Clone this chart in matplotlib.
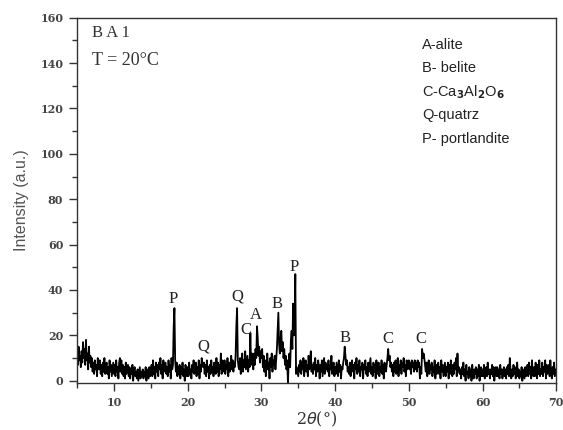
import numpy as np
import matplotlib
matplotlib.use("Agg")
import matplotlib.pyplot as plt
from matplotlib.ticker import MultipleLocator

# 2theta grid: 5.0 .. 70.0 step 0.1 ; each row = one degree (10 readings)
two_theta_start = 5.0
two_theta_step = 0.1
intensity_rows = [
    [12, 7, 15, 9, 11, 6, 13, 8, 17, 10],    # 5
    [14, 7, 18, 9, 12, 5, 15, 8, 11, 6],     # 6
    [10, 4, 8, 3, 9, 5, 7, 2, 10, 6],        # 7
    [5, 9, 3, 7, 2, 8, 4, 10, 3, 6],         # 8
    [8, 3, 6, 1, 9, 4, 7, 2, 5, 8],          # 9
    [3, 7, 2, 9, 4, 6, 1, 8, 10, 4],         # 10
    [9, 3, 7, 2, 6, 1, 8, 3, 5, 7],          # 11
    [2, 6, 1, 5, 3, 7, 0, 4, 6, 2],          # 12
    [4, 1, 5, 0, 3, 6, 1, 4, 2, 5],          # 13
    [1, 4, 2, 6, 0, 5, 3, 1, 6, 2],          # 14
    [4, 7, 2, 9, 3, 6, 1, 8, 4, 7],          # 15
    [2, 8, 5, 10, 3, 7, 1, 9, 4, 6],         # 16
    [8, 3, 6, 2, 9, 4, 7, 1, 10, 5],         # 17
    [7, 24, 32, 9, 4, 8, 2, 6, 3, 7],        # 18
    [1, 6, 3, 8, 2, 5, 0, 7, 4, 2],          # 19
    [6, 2, 8, 3, 5, 1, 7, 4, 9, 3],          # 20
    [5, 8, 2, 6, 3, 9, 1, 7, 4, 10],         # 21
    [7, 6, 8, 3, 7, 2, 9, 4, 6, 1],          # 22
    [7, 3, 9, 4, 6, 2, 8, 5, 3, 10],         # 23
    [4, 8, 2, 7, 5, 12, 3, 9, 6, 4],         # 24
    [9, 3, 7, 5, 10, 2, 8, 4, 6, 11],        # 25
    [5, 9, 4, 8, 6, 11, 24, 32, 9, 6],       # 26
    [5, 10, 3, 8, 12, 4, 9, 6, 13, 5],       # 27
    [8, 11, 4, 9, 6, 21, 7, 12, 9, 5],       # 28
    [12, 7, 14, 10, 24, 19, 11, 15, 8, 13],  # 29
    [10, 14, 6, 11, 4, 9, 2, 7, 12, 5],      # 30
    [8, 1, 10, 6, 12, 4, 9, 7, 11, 5],       # 31
    [9, 14, 22, 30, 16, 12, 18, 22, 13, 17], # 32
    [10, 14, 7, 11, 5, 9, -1, 8, 12, 6],     # 33
    [18, 22, 14, 34, 20, 23, 47, 3, 6, 4],   # 34
    [2, 7, 4, 9, 3, 8, 5, 10, 2, 6],         # 35
    [9, 4, 7, 2, 11, 5, 8, 13, 4, 7],        # 36
    [3, 8, 5, 10, 2, 7, 4, 9, 6, 1],         # 37
    [7, 4, 9, 2, 6, 10, 3, 8, 5, 7],         # 38
    [4, 9, 2, 7, 5, 11, 3, 6, 8, 2],         # 39
    [6, 3, 8, 5, 2, 9, 4, 7, 1, 6],          # 40
    [5, 8, 10, 15, 11, 7, 9, 4, 6, 3],       # 41
    [8, 2, 6, 9, 4, 7, 1, 8, 5, 10],         # 42
    [3, 7, 4, 9, 2, 6, 5, 8, 1, 7],          # 43
    [5, 9, 3, 6, 2, 8, 4, 7, 10, 3],         # 44
    [6, 2, 8, 4, 7, 1, 9, 3, 5, 8],          # 45
    [2, 6, 4, 9, 3, 7, 1, 8, 5, 4],          # 46
    [7, 10, 14, 9, 11, 6, 8, 4, 7, 2],       # 47
    [8, 4, 9, 3, 6, 10, 2, 7, 5, 9],         # 48
    [3, 8, 6, 10, 4, 7, 2, 9, 5, 8],         # 49
    [9, 5, 8, 3, 9, 6, 8, 4, 9, 5],          # 50
    [8, 4, 9, 6, 8, 1, 6, 3, 14, 10],        # 51
    [12, 10, 7, 4, 8, 2, 6, 9, 3, 7],        # 52
    [5, 8, 2, 6, 4, 9, 1, 7, 3, 6],          # 53
    [8, 3, 6, 1, 9, 4, 7, 2, 5, 8],          # 54
    [2, 6, 4, 8, 1, 7, 3, 9, 5, 2],          # 55
    [7, 3, 8, 5, 10, 2, 12, 4, 6, 3],        # 56
    [5, 1, 6, 3, 8, 2, 5, 0, 7, 3],          # 57
    [4, 1, 6, 2, 5, 0, 7, 3, 1, 5],          # 58
    [3, 6, 1, 5, 2, 7, 0, 4, 6, 2],          # 59
    [5, 2, 7, 1, 4, 6, 2, 8, 3, 5],          # 60
    [1, 5, 3, 7, 2, 6, 0, 4, 6, 2],          # 61
    [6, 2, 5, 1, 7, 3, 5, 1, 4, 6],          # 62
    [2, 5, 1, 6, 3, 7, 2, 10, 4, 1],         # 63
    [5, 2, 7, 3, 6, 1, 4, 8, 2, 5],          # 64
    [1, 4, 2, 6, 0, 5, 3, 1, 6, 2],          # 65
    [4, 7, 2, 8, 3, 6, 1, 9, 4, 2],          # 66
    [6, 2, 8, 4, 1, 7, 3, 9, 2, 5],          # 67
    [3, 8, 2, 6, 4, 9, 1, 7, 3, 5],          # 68
    [7, 2, 9, 4, 1, 6, 3, 8, 2, 5],          # 69
    [3],                                     # 70
]

peak_labels = ["P", "Q", "Q", "C", "A", "B", "P", "B", "C", "C"]
peak_label_x = [18.0, 22.1, 26.7, 27.9, 29.3, 32.1, 34.5, 41.4, 47.1, 51.7]
peak_label_y = [36, 15, 37, 22.4, 29, 34, 50, 19, 18.4, 18.4]

legend_lines = ["A-alite", "B- belite", r"C-Ca$_\mathbf{3}$Al$_\mathbf{2}$O$_\mathbf{6}$",
                "Q-quatrz", "P- portlandite"]

intensity = np.array([v for row in intensity_rows for v in row], dtype=float)
two_theta = two_theta_start + two_theta_step * np.arange(len(intensity))

fig = plt.figure(figsize=(5.63, 4.30), dpi=100)
ax = fig.add_axes([0.137, 0.1093, 0.851, 0.8495])
ax.plot(two_theta, intensity, color="black", lw=1.3)
ax.set_xlim(5, 70)
ax.set_ylim(-1, 160)

ax.xaxis.set_major_locator(MultipleLocator(10))
ax.xaxis.set_minor_locator(MultipleLocator(5))
ax.yaxis.set_major_locator(MultipleLocator(20))
ax.yaxis.set_minor_locator(MultipleLocator(10))
ax.set_xticks(np.arange(10, 71, 10))
ax.tick_params(which="major", direction="out", length=6, width=1, colors="#333333", pad=4)
ax.tick_params(which="minor", direction="out", length=3.5, width=1, colors="#333333")
for lab in ax.get_xticklabels() + ax.get_yticklabels():
    lab.set_fontfamily("DejaVu Serif")
    lab.set_fontweight("bold")
    lab.set_fontsize(8)
    lab.set_color("#444444")
for sp in ax.spines.values():
    sp.set_linewidth(1.0)
    sp.set_color("#333333")

ax.set_ylabel("Intensity (a.u.)", fontsize=11.5, color="#555555", family="Liberation Sans", labelpad=8)
ax.set_xlabel(r"2$\theta$(°)", fontsize=11.5, color="#333333", family="DejaVu Serif", labelpad=1)

ax.text(0.03, 0.958, "B A 1", transform=ax.transAxes, fontsize=12, family="Liberation Serif",
        va="center", ha="left", color="#333333")
ax.text(0.03, 0.882, "T = 20°C", transform=ax.transAxes, fontsize=13, family="Liberation Serif",
        va="center", ha="left", color="#333333")

for i, line in enumerate(legend_lines):
    ax.text(0.72, 0.925 - i * 0.064, line, transform=ax.transAxes, fontsize=10.5,
            family="Liberation Sans", va="center", ha="left", color="#222222")

for lbl, x, y in zip(peak_labels, peak_label_x, peak_label_y):
    ax.text(x, y, lbl, fontsize=12, family="Liberation Serif", ha="center", va="center",
            color="#222222")

fig.savefig("out.png", dpi=100)
